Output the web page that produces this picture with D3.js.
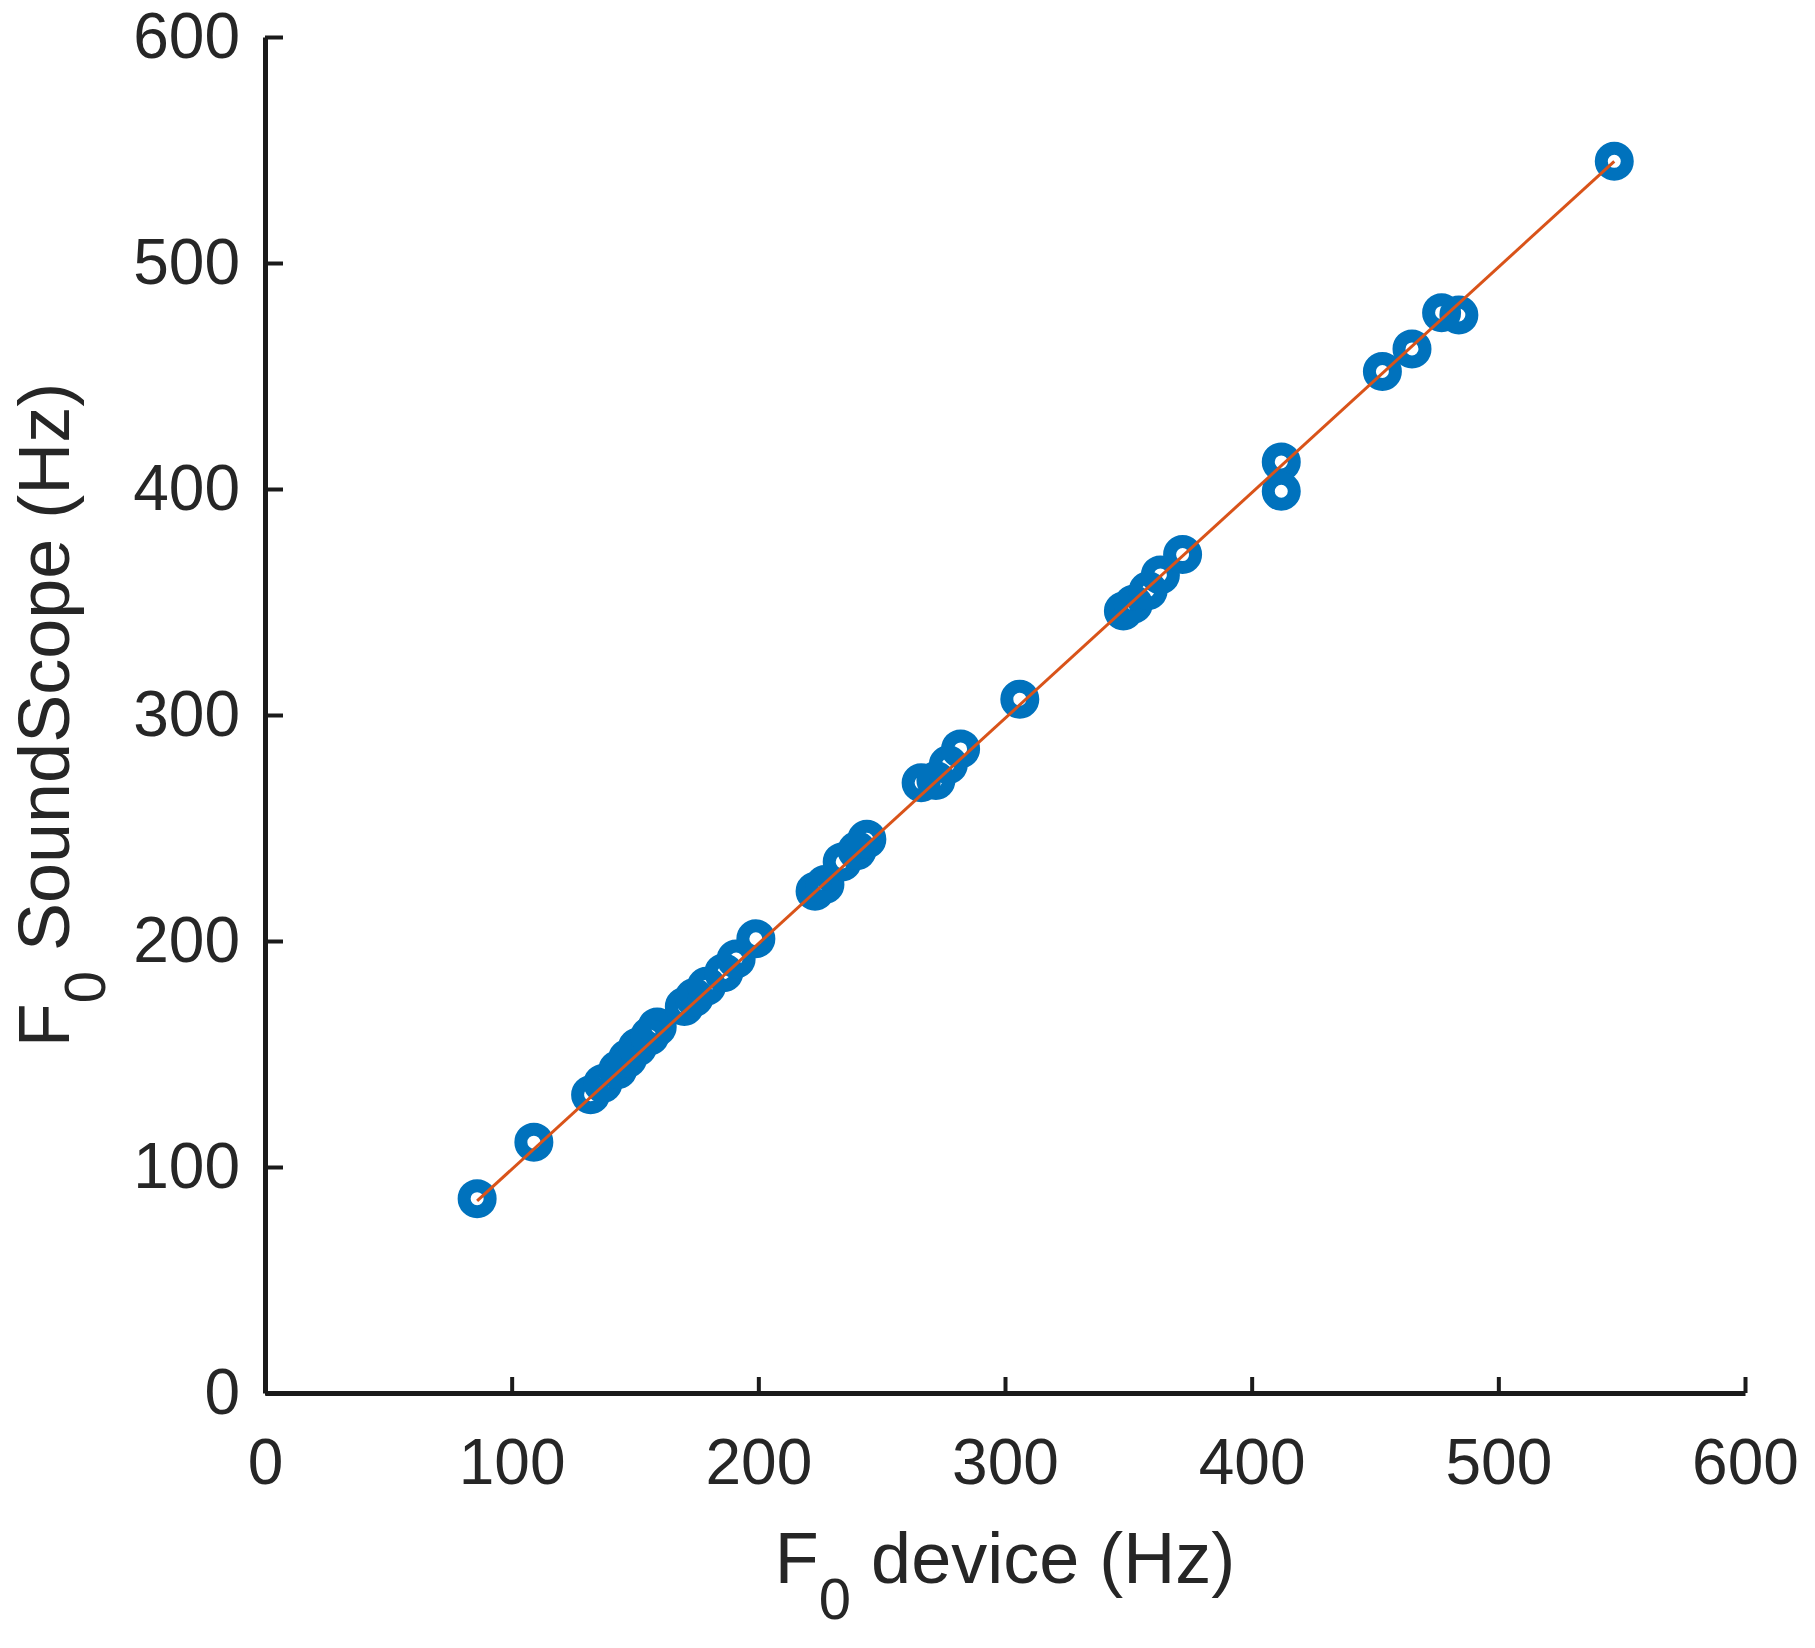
<!DOCTYPE html>
<html>
<head>
<meta charset="utf-8">
<script src="https://cdn.jsdelivr.net/npm/d3@7"></script>
<style>
  html, body { margin: 0; padding: 0; background: #ffffff; }
  svg { display: block; }
  text { font-family: "Liberation Sans", Arial, Helvetica, sans-serif; fill: #262626; }
</style>
</head>
<body>
<svg id="chart" width="1815" height="1648"></svg>
<script>
// ---- data ----
const deviceF0 = [86, 109, 132, 137, 143, 147, 151, 156, 159, 170, 174, 179, 186, 191, 199,
                  223, 227, 234, 240, 244, 266, 272, 277, 282, 306,
                  348, 352, 358, 363, 372, 412, 412, 453, 465, 477, 484, 547];
const soundScopeF0 = [86, 111, 132, 137, 143, 148, 153, 158, 162, 171, 175, 180, 186, 192, 201,
                      222, 225, 235, 240, 245, 270, 271, 278, 285, 307,
                      346, 349, 355, 362, 371, 412, 399, 452, 462, 478, 477, 545];
const fitX = [86, 547];
const fitY = [85, 545];
const xTicks = [0, 100, 200, 300, 400, 500, 600];
const yTicks = [0, 100, 200, 300, 400, 500, 600];

// ---- layout ----
const svg = d3.select("#chart");
const pLeft = 265, pRight = 1745, pTop = 37, pBottom = 1393;
const x = d3.scaleLinear().domain([0, 600]).range([pLeft, pRight]);
const y = d3.scaleLinear().domain([0, 600]).range([pBottom, pTop]);
const ink = "#262626";
const axisInk = "#1a1a1a";

// markers
const pts = deviceF0.map((d, i) => ({ x: d, y: soundScopeF0[i] }));
svg.append("g").selectAll("circle").data(pts).join("circle")
  .attr("cx", d => x(d.x)).attr("cy", d => y(d.y)).attr("r", 13)
  .attr("fill", "none").attr("stroke", "#0072BD").attr("stroke-width", 13);

// fit line
svg.append("path")
  .datum(fitX.map((d, i) => [d, fitY[i]]))
  .attr("d", d3.line().x(d => x(d[0])).y(d => y(d[1])))
  .attr("fill", "none").attr("stroke", "#D95319").attr("stroke-width", 3);

// axes
const xAxis = svg.append("g").attr("transform", `translate(0,${pBottom})`)
  .call(d3.axisBottom(x).tickValues(xTicks).tickSizeInner(-16).tickSizeOuter(0).tickPadding(46));
const yAxis = svg.append("g").attr("transform", `translate(${pLeft},0)`)
  .call(d3.axisLeft(y).tickValues(yTicks).tickSizeInner(-18).tickSizeOuter(0).tickPadding(25));
[xAxis, yAxis].forEach(a => {
  a.select(".domain").attr("stroke", axisInk).attr("stroke-width", 5);
  a.selectAll(".tick line").attr("stroke", axisInk).attr("stroke-width", 4);
  a.selectAll(".tick text").attr("fill", ink)
    .style("font-family", '"Liberation Sans", Arial, sans-serif').style("font-size", "64px");
});

// axis titles
const xl = svg.append("text").attr("x", (pLeft + pRight) / 2).attr("y", 1583)
  .attr("text-anchor", "middle").style("font-size", "72px");
xl.append("tspan").text("F");
xl.append("tspan").attr("dy", 36).style("font-size", "58px").text("0");
xl.append("tspan").attr("dy", -36).text(" device (Hz)");

const yl = svg.append("text")
  .attr("transform", `translate(69,${(pTop + pBottom) / 2}) rotate(-90)`)
  .attr("text-anchor", "middle").style("font-size", "72px");
yl.append("tspan").text("F");
yl.append("tspan").attr("dy", 36).style("font-size", "58px").text("0");
yl.append("tspan").attr("dy", -36).text(" SoundScope (Hz)");
</script>
</body>
</html>
